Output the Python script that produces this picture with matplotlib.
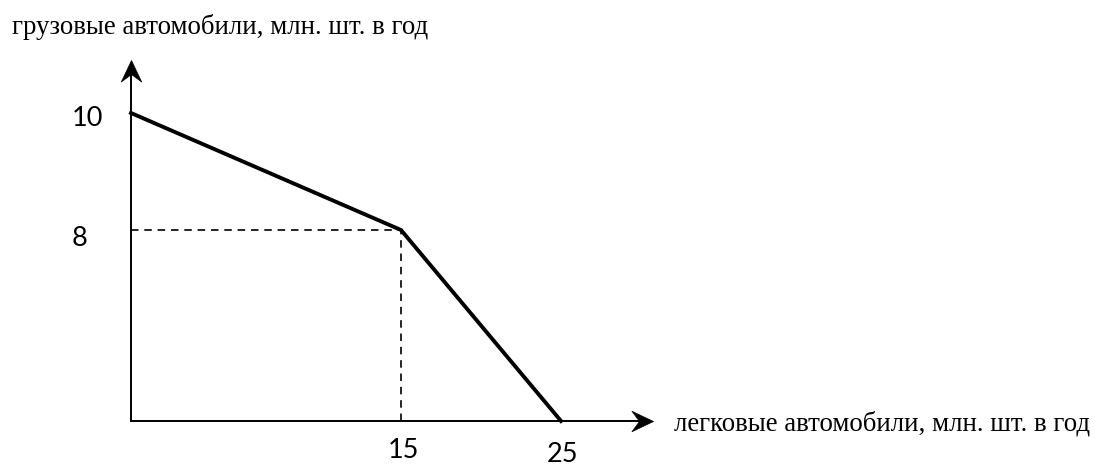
import numpy as np
import matplotlib
matplotlib.use("Agg")
from matplotlib import pyplot as plt
from matplotlib.scale import FuncScale
from matplotlib.path import Path

# production possibility frontier: cars vs trucks, mln per year
cars = [0, 15, 25]
trucks = [10, 8, 0]
x_ticks = [15, 25]
y_ticks = [10, 8]
x_label = "легковые автомобили, млн. шт. в год"
y_label = "грузовые автомобили, млн. шт. в год"

# the drawing is schematic: axis positions are not uniform
x_knots = [0, 15, 25, 60]
x_pix = [0, 270, 430, 990]
y_knots = [0, 8, 10, 20]
y_pix = [0, 191, 308, 893]


def fwd(knots, pix):
    return lambda v: np.interp(v, knots, pix)


def inv(knots, pix):
    return lambda p: np.interp(p, pix, knots)


W, H = 1095, 466
fig = plt.figure(figsize=(W / 100, H / 100), dpi=100)
ax = fig.add_axes([131 / W, (H - 421) / H, (653 - 131) / W, (421 - 60) / H])
ax.set_xscale(FuncScale(ax.xaxis, (fwd(x_knots, x_pix), inv(x_knots, x_pix))))
ax.set_yscale(FuncScale(ax.yaxis, (fwd(y_knots, y_pix), inv(y_knots, y_pix))))
ax.set_xlim(0, np.interp(522, x_pix, x_knots))
ax.set_ylim(0, np.interp(361, y_pix, y_knots))
ax.axis("off")

# axes with stealth arrow heads
head = Path([(0, 0), (-2, -0.95), (-1.3, 0), (-2, 0.95), (0, 0)],
            [Path.MOVETO, Path.LINETO, Path.LINETO, Path.LINETO, Path.CLOSEPOLY])
head_up = head.transformed(matplotlib.transforms.Affine2D().rotate_deg(90))
ax.plot([0, 0.98], [0, 0], transform=ax.transAxes, color="black", lw=1.4,
        clip_on=False)
ax.plot([0, 0], [0, 0.98], transform=ax.transAxes, color="black", lw=1.4,
        clip_on=False)
ax.plot([1], [0], transform=ax.transAxes, marker=head, ms=31, color="black",
        mec="black", mew=0.5, clip_on=False)
ax.plot([0], [1], transform=ax.transAxes, marker=head_up, ms=31,
        color="black", mec="black", mew=0.5, clip_on=False)

# dashed guides to the kink
ax.plot([0, cars[1]], [trucks[1], trucks[1]], color="black", lw=1.2,
        ls=(0, (4.5, 3.5)))
ax.plot([cars[1], cars[1]], [0, trucks[1]], color="black", lw=1.2,
        ls=(0, (4.5, 3.5)))

ax.plot(cars, trucks, color="black", lw=2.8, solid_joinstyle="miter",
        clip_on=False)

num_font = dict(family="Lato", fontsize=19.5)
ax.annotate(str(y_ticks[0]), xy=(0, y_ticks[0]), xytext=(-59, -6),
            textcoords="offset pixels", ha="left", va="center", **num_font)
ax.annotate(str(y_ticks[1]), xy=(0, y_ticks[1]), xytext=(-59, -9),
            textcoords="offset pixels", ha="left", va="center", **num_font)
ax.annotate(str(x_ticks[0]), xy=(x_ticks[0], 0), xytext=(2, -30),
            textcoords="offset pixels", ha="center", va="center", **num_font)
ax.annotate(str(x_ticks[1]), xy=(x_ticks[1], 0), xytext=(1, -33),
            textcoords="offset pixels", ha="center", va="center", **num_font)

lab_font = dict(family="Liberation Serif", fontsize=19.4)
fig.text(12 / W, (H - 34) / H, y_label, ha="left", va="baseline", **lab_font)
fig.text(674 / W, (H - 431) / H, x_label, ha="left", va="baseline", **lab_font)

fig.savefig("out.png", dpi=100)
